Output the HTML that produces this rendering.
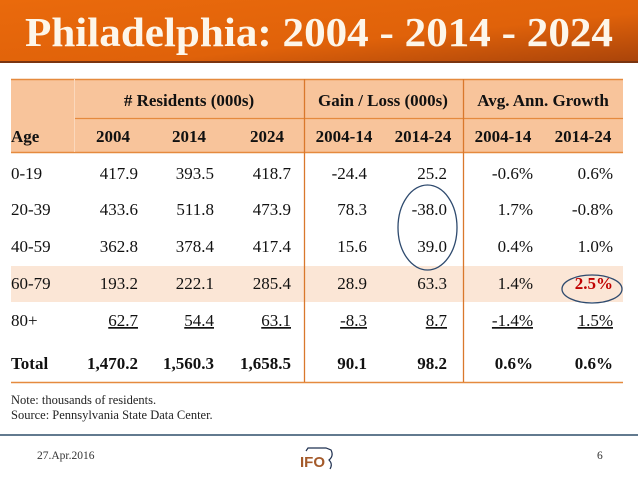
<!DOCTYPE html>
<html><head><meta charset="utf-8"><style>
html,body{margin:0;padding:0;background:#fff;}
svg{display:block;font-family:"Liberation Serif",serif;}
</style></head><body>
<svg width="638" height="479" viewBox="0 0 638 479">
<defs>
<linearGradient id="tg" x1="0" y1="0" x2="1" y2="1">
<stop offset="0" stop-color="#ea6a0c"/><stop offset="0.6" stop-color="#e0620a"/><stop offset="1" stop-color="#a8430a"/>
</linearGradient>
</defs>
<g>
<rect x="0" y="0" width="638" height="63" fill="url(#tg)"/>
<rect x="0" y="61" width="638" height="2" fill="#7a3410"/>
<text x="25" y="46" font-size="41" font-weight="bold" fill="#fdf6ea" textLength="588" lengthAdjust="spacingAndGlyphs">Philadelphia:  2004 - 2014 - 2024</text>
</g>
<g font-size="17" fill="#111">
<rect x="11" y="79" width="612" height="73" fill="#f8c49b"/>
<rect x="11" y="266" width="612" height="36" fill="#fbe6d6"/>
<line x1="11" y1="79.5" x2="623" y2="79.5" stroke="#e58a3e" stroke-width="1.5"/>
<line x1="74" y1="118.5" x2="623" y2="118.5" stroke="#e58a3e" stroke-width="1.2"/>
<line x1="11" y1="152.5" x2="623" y2="152.5" stroke="#e58a3e" stroke-width="1.5"/>
<line x1="11" y1="382.5" x2="623" y2="382.5" stroke="#e58a3e" stroke-width="1.5"/>
<line x1="74.5" y1="79" x2="74.5" y2="152" stroke="#fbd8bc" stroke-width="1"/>
<line x1="304.5" y1="79" x2="304.5" y2="382" stroke="#d9782c" stroke-width="1.3"/>
<line x1="463.5" y1="79" x2="463.5" y2="382" stroke="#d9782c" stroke-width="1.3"/>
<g font-weight="bold">
<text x="189" y="106" text-anchor="middle">#&#160;Residents (000s)</text>
<text x="383" y="106" text-anchor="middle">Gain / Loss (000s)</text>
<text x="543" y="106" text-anchor="middle">Avg. Ann. Growth</text>
<text x="11" y="142">Age</text>
<text x="113" y="142" text-anchor="middle">2004</text>
<text x="189" y="142" text-anchor="middle">2014</text>
<text x="267" y="142" text-anchor="middle">2024</text>
<text x="344" y="142" text-anchor="middle">2004-14</text>
<text x="423" y="142" text-anchor="middle">2014-24</text>
<text x="503" y="142" text-anchor="middle">2004-14</text>
<text x="583" y="142" text-anchor="middle">2014-24</text>
</g>
<g id="body"></g>
<ellipse cx="427.5" cy="227.5" rx="29.5" ry="42.5" fill="none" stroke="#2e4a6e" stroke-width="1.3"/>
<ellipse cx="592" cy="289" rx="30" ry="14" fill="none" stroke="#2e4a6e" stroke-width="1.3"/>
</g>
<g font-size="12.5" fill="#222">
<text x="11" y="404">Note:  thousands of residents.</text>
<text x="11" y="419">Source:  Pennsylvania State Data Center.</text>
</g>
<line x1="0" y1="435" x2="638" y2="435" stroke="#2f4f6a" stroke-width="1.5"/>
<text x="37" y="459" font-size="11.5" fill="#333">27.Apr.2016</text>
<g>
<path d="M306 451 L308 448 L326 448 L331 450 Q334 456 329 460 Q333 464 330 469" fill="none" stroke="#1f3050" stroke-width="1.2"/>
<text x="300" y="467" font-family="Liberation Sans,sans-serif" font-weight="bold" font-size="15" fill="#a45a2a">IFO</text>
</g>
<text x="597" y="459" font-size="11.5" fill="#333">6</text>
</svg>
<script>
const ages=["0-19","20-39","40-59","60-79","80+","Total"];
const res2004=["417.9","433.6","362.8","193.2","62.7","1,470.2"];
const res2014=["393.5","511.8","378.4","222.1","54.4","1,560.3"];
const res2024=["418.7","473.9","417.4","285.4","63.1","1,658.5"];
const gain0414=["-24.4","78.3","15.6","28.9","-8.3","90.1"];
const gain1424=["25.2","-38.0","39.0","63.3","8.7","98.2"];
const gr0414=["-0.6%","1.7%","0.4%","1.4%","-1.4%","0.6%"];
const gr1424=["0.6%","-0.8%","1.0%","2.5%","1.5%","0.6%"];
const cols=[res2004,res2014,res2024,gain0414,gain1424,gr0414,gr1424];
const rights=[138,214,291,367,447,533,613];
const ys=[179,215,252,289,326,369];
const NS="http://www.w3.org/2000/svg";
const body=document.getElementById('body');
ages.forEach((a,i)=>{
  const g=document.createElementNS(NS,'g');
  
  
  const bold=a==="Total";
  const under=a==="80+";
  const t=document.createElementNS(NS,'text');
  
  
  t.setAttribute('x',11);t.setAttribute('y',ys[i]);
  if(bold)t.setAttribute('font-weight','bold');
  t.textContent=a;g.appendChild(t);
  cols.forEach((c,j)=>{
    const v=document.createElementNS(NS,'text');
    
    
    v.setAttribute('x',rights[j]);v.setAttribute('y',ys[i]);
    v.setAttribute('text-anchor','end');
    if(bold)v.setAttribute('font-weight','bold');
    if(under)v.setAttribute('text-decoration','underline');
    if(i===3&&j===6){v.setAttribute('font-weight','bold');v.setAttribute('fill','#c00000');}
    v.textContent=c[i];g.appendChild(v);
  });
  body.appendChild(g);
});
</script>
</body></html>
